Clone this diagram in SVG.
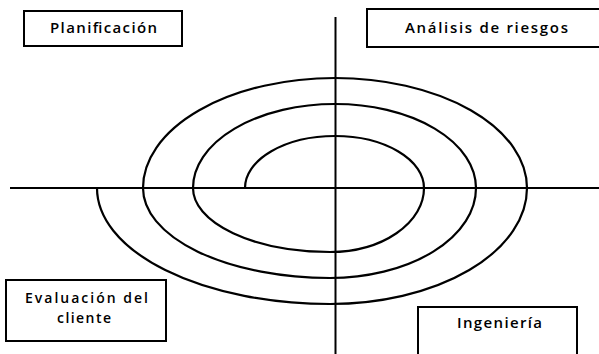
<svg xmlns="http://www.w3.org/2000/svg" width="599" height="354" viewBox="0 0 599 354">
<style>
.box{fill:#fff;stroke:#000;stroke-width:2}
.lbl{font-family:"Open Sans","Liberation Sans",sans-serif;font-size:15px;font-weight:600;fill:#000}
.sm{font-size:14px}
.ax{stroke:#000;stroke-width:2;fill:none}
.sp{stroke:#000;stroke-width:2.2;fill:none}
</style>
<rect width="599" height="354" fill="#fff"/>
<g id="connectors">
<line class="ax" x1="10" y1="188" x2="599" y2="188"/>
<line class="ax" x1="335.5" y1="17" x2="335.5" y2="354"/>
<path class="sp" d="M245 188 A90 52 0 0 1 335 136 A89 52 0 0 1 424 188 A94 64 0 0 1 330 252 A137 64 0 0 1 193 188 A142 84 0 0 1 335 104 A141 84 0 0 1 476 188 A146 90 0 0 1 330 278 A187 90 0 0 1 143 188 A192 110 0 0 1 335 78 A192 110 0 0 1 527 188 A197 116 0 0 1 330 304 A233 116 0 0 1 97 188"/>
</g>
<g id="planificacion">
<rect class="box" x="24" y="11" width="158" height="35"/>
<text class="lbl" x="50" y="33" textLength="107" lengthAdjust="spacing">Planificación</text>
</g>
<g id="analisis">
<rect class="box" x="367" y="9" width="240" height="38"/>
<text class="lbl" x="405" y="33" textLength="163" lengthAdjust="spacing">Análisis de riesgos</text>
</g>
<g id="evaluacion">
<rect class="box" x="6" y="280" width="160" height="61"/>
<text class="lbl sm" x="25" y="303" textLength="123" lengthAdjust="spacing">Evaluación del</text>
<text class="lbl sm" x="57" y="323" textLength="54" lengthAdjust="spacing">cliente</text>
</g>
<g id="ingenieria">
<rect class="box" x="418" y="307" width="159" height="60"/>
<text class="lbl" x="457" y="328" textLength="85" lengthAdjust="spacing">Ingeniería</text>
</g>
</svg>
